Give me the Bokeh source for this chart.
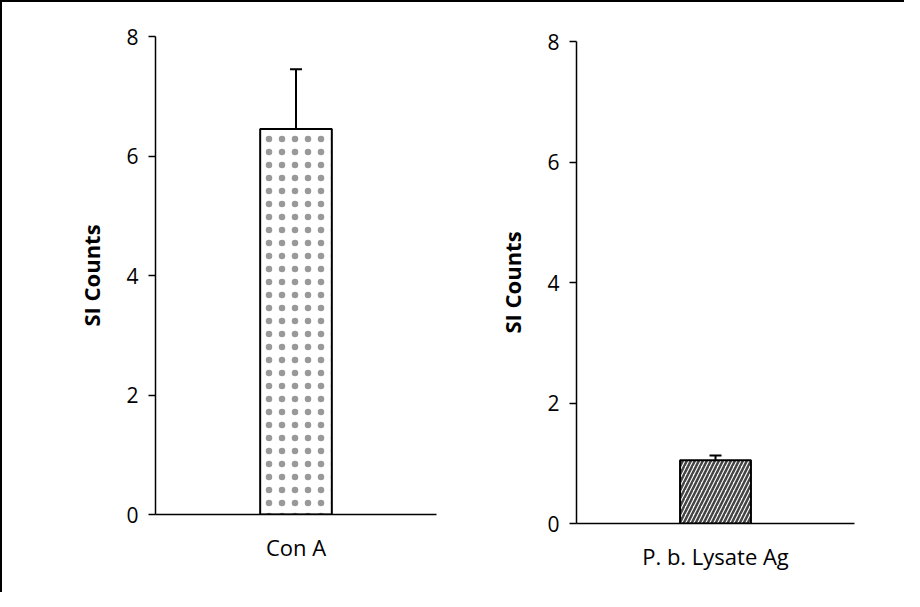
from bokeh.plotting import figure
from bokeh.layouts import row, column
from bokeh.models import Whisker, ColumnDataSource, FixedTicker
from bokeh.embed import file_html
from bokeh.resources import INLINE

left_cat = ["Con A"]
left_val = [6.45]
left_err = [1.0]
right_cat = ["P. b. Lysate Ag"]
right_val = [1.05]
right_err = [0.08]
y_ticks = [0, 2, 4, 6, 8]
y_label = "SI Counts"

FONT = "Open Sans"


def make_panel(cats, vals, errs, width, height, bl, br, bt, bb, pattern, hscale, hweight, hcolor):
    p = figure(x_range=cats, y_range=(0, 8), width=width, height=height,
               output_backend="svg", toolbar_location=None, title=None,
               min_border_left=bl, min_border_right=br, min_border_top=bt, min_border_bottom=bb)
    p.x_range.range_padding = 0
    src = ColumnDataSource(dict(x=cats, top=vals,
                                upper=[v + e for v, e in zip(vals, errs)],
                                lower=vals))
    p.vbar(x="x", top="top", width=0.255, source=src, fill_color="white",
           line_color="black", line_width=2,
           hatch_pattern=pattern, hatch_scale=hscale, hatch_weight=hweight, hatch_color=hcolor)
    w = Whisker(base="x", upper="upper", lower="lower", source=src,
                line_color="black", line_width=2)
    w.upper_head.size = 12
    w.upper_head.line_width = 2
    w.lower_head = None
    p.add_layout(w)
    p.grid.visible = False
    p.outline_line_color = None
    p.background_fill_color = None
    p.border_fill_color = None
    p.yaxis.ticker = FixedTicker(ticks=y_ticks)
    p.yaxis.axis_label = y_label
    p.yaxis.axis_label_text_font = FONT
    p.yaxis.axis_label_text_font_style = "bold"
    p.yaxis.axis_label_text_font_size = "22px"
    p.yaxis.axis_label_text_color = "black"
    p.yaxis.major_label_text_font = FONT
    p.yaxis.major_label_text_font_size = "21px"
    p.yaxis.major_label_text_color = "black"
    p.yaxis.minor_tick_line_color = None
    p.yaxis.major_tick_in = 0
    p.yaxis.major_tick_out = 7
    p.yaxis.major_tick_line_width = 1.5
    p.yaxis.axis_line_width = 1.5
    p.yaxis.major_label_standoff = 10
    p.yaxis.axis_label_standoff = 17
    p.xaxis.major_tick_line_color = None
    p.xaxis.axis_line_width = 1.5
    p.xaxis.major_label_text_font = FONT
    p.xaxis.major_label_text_font_size = "22px"
    p.xaxis.major_label_text_color = "black"
    p.xaxis.major_label_standoff = 11
    return p


p1 = make_panel(left_cat, left_val, left_err, 451, 590, 153, 17, 34, 78,
                ".", 13, 1, "#999999")
p2 = make_panel(right_cat, right_val, right_err, 451, 590, 123, 50, 39, 69,
                "/", 8, 2.5, "#444444")

layout = row(column(p1), column(p2),
             styles={"border-top": "2px solid black", "border-left": "2px solid black"})

open("out.html", "w").write(file_html(layout, INLINE))
